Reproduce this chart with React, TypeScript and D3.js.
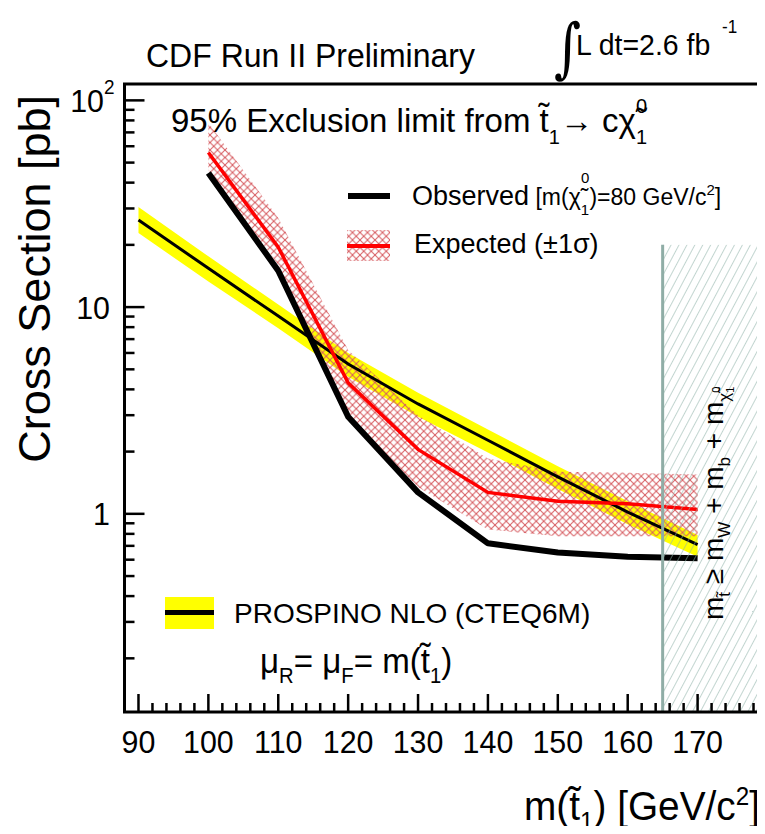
import * as d3 from 'd3';

// stop mass points (GeV/c^2)
const massPoints = [100, 110, 120, 130, 140, 150, 160, 170];
const observed = [44.5, 15, 2.95, 1.27, 0.72, 0.65, 0.62, 0.61];
const expected = [56, 19.5, 4.3, 2.05, 1.27, 1.15, 1.12, 1.05];
const expectedUp = [78, 27, 6.2, 3.0, 1.85, 1.6, 1.58, 1.55];
const expectedDown = [46, 16, 3.0, 1.35, 0.84, 0.78, 0.78, 0.78];

// PROSPINO NLO theory
const theoryMass = [90, 100, 110, 120, 130, 140, 150, 160, 170];
const theory = [26.4, 15.4, 9.05, 5.3, 3.4, 2.27, 1.51, 1.02, 0.71];
const theoryUp = [30.5, 17.6, 10.3, 6.0, 3.85, 2.56, 1.7, 1.15, 0.79];
const theoryDown = [22.8, 13.3, 7.9, 4.6, 2.95, 1.98, 1.32, 0.89, 0.62];

const xTickLabels = [90, 100, 110, 120, 130, 140, 150, 160, 170];
const kinLimitMass = 165;
const kinLimitTop = 20;

const W = 765;
const H = 834;
const frame = { left: 124.5, right: 760.5, top: 84, bottom: 712 };

const T = ({ x, y, size, sx = 1, anchor = 'start', rot = 0, family, children }: any) => (
  <text
    transform={`translate(${x},${y}) rotate(${rot}) scale(${sx},1)`}
    fontSize={size}
    textAnchor={anchor}
    fontFamily={family}
    fill="#000"
  >
    {children}
  </text>
);

export default function App() {
  const x = d3.scaleLinear().domain([88, 179]).range([frame.left, frame.right]);
  const y = d3.scaleLog().domain([0.11, 120]).range([frame.bottom, frame.top]);

  const line = d3.line<[number, number]>().x(d => x(d[0])).y(d => y(d[1]));
  const band = d3
    .area<[number, number, number]>()
    .x(d => x(d[0]))
    .y0(d => y(d[1]))
    .y1(d => y(d[2]));

  const obsPts = massPoints.map((m, i) => [m, observed[i]] as [number, number]);
  const expPts = massPoints.map((m, i) => [m, expected[i]] as [number, number]);
  const expBand = massPoints.map((m, i) => [m, expectedDown[i], expectedUp[i]] as [number, number, number]);
  const thPts = theoryMass.map((m, i) => [m, theory[i]] as [number, number]);
  const thBand = theoryMass.map((m, i) => [m, theoryDown[i], theoryUp[i]] as [number, number, number]);

  // minor ticks
  const xMinor = d3.range(90, 179, 2).filter(v => v % 10 !== 0);
  const yMajor = [1, 10, 100];
  const yMinor: number[] = [];
  [0.1, 1, 10].forEach(dec => {
    for (let k = 2; k <= 9; k++) {
      const v = dec * k;
      if (v >= 0.11 && v <= 120) yMinor.push(v);
    }
  });

  const xk = x(kinLimitMass);
  const yk = y(kinLimitTop);

  return (
    <svg width={W} height={H} style={{ display: 'block', margin: -8 }} fontFamily="'Liberation Sans', Arial, sans-serif">
      <defs>
        <clipPath id="frameClip">
          <rect x={frame.left} y={frame.top} width={frame.right - frame.left} height={frame.bottom - frame.top} />
        </clipPath>
        <pattern id="redHatch" width="7.5" height="7.5" patternUnits="userSpaceOnUse">
          <path d="M0,0 L7.5,7.5 M7.5,0 L0,7.5" stroke="#d65b60" strokeWidth="1" fill="none" />
        </pattern>
        <pattern id="greyHatch" width="7" height="12" patternUnits="userSpaceOnUse" patternTransform="rotate(28)">
          <line x1="0" y1="0" x2="0" y2="12" stroke="#8fb2a9" strokeWidth="1.1" />
        </pattern>
      </defs>

      <rect width={W} height={H} fill="#fff" />

      <g clipPath="url(#frameClip)">
        {/* theory band */}
        <path d={band(thBand) || ''} fill="#ffff00" />
        {/* expected +-1 sigma */}
        <path d={band(expBand) || ''} fill="url(#redHatch)" />
        <path d={line(thPts) || ''} fill="none" stroke="#000" strokeWidth={3} />
        <path d={line(expPts) || ''} fill="none" stroke="#ff0000" strokeWidth={3.5} />
        <path d={line(obsPts) || ''} fill="none" stroke="#000" strokeWidth={6} strokeLinejoin="round" />
        {/* kinematically forbidden region */}
        <rect x={xk} y={yk} width={frame.right - xk} height={frame.bottom - yk} fill="url(#greyHatch)" />
        <line x1={xk} x2={xk} y1={yk} y2={frame.bottom} stroke="#8fada6" strokeWidth={3} />
      </g>

      {/* frame */}
      <rect
        x={frame.left}
        y={frame.top}
        width={frame.right - frame.left}
        height={frame.bottom - frame.top}
        fill="none"
        stroke="#000"
        strokeWidth={3}
      />

      {/* x ticks */}
      {xTickLabels.map(v => (
        <g key={'xt' + v}>
          <line x1={x(v)} x2={x(v)} y1={frame.bottom} y2={frame.bottom - 18} stroke="#000" strokeWidth={2.5} />
          <T x={x(v)} y={753} size={32} sx={0.95} anchor="middle">
            {v}
          </T>
        </g>
      ))}
      {xMinor.map(v => (
        <line key={'xm' + v} x1={x(v)} x2={x(v)} y1={frame.bottom} y2={frame.bottom - 9} stroke="#000" strokeWidth={2.5} />
      ))}

      {/* y ticks */}
      {yMajor.map(v => (
        <line key={'ym' + v} x1={frame.left} x2={frame.left + 20} y1={y(v)} y2={y(v)} stroke="#000" strokeWidth={2.5} />
      ))}
      {yMinor.map(v => (
        <line key={'yn' + v} x1={frame.left} x2={frame.left + 10} y1={y(v)} y2={y(v)} stroke="#000" strokeWidth={2.5} />
      ))}
      <T x={110} y={y(1) + 11.5} size={32} sx={0.95} anchor="end">1</T>
      <T x={110} y={y(10) + 11.5} size={32} sx={0.95} anchor="end">10</T>
      <T x={104} y={y(100) + 11.5} size={32} sx={0.95} anchor="end">10</T>
      <T x={104} y={y(100) - 6} size={20} sx={0.95}>2</T>

      {/* axis titles */}
      <T x={50} y={95} size={45} anchor="end" rot={-90}>
        Cross Section [pb]
      </T>
      <T x={760} y={820} size={40} sx={0.97} anchor="end">
        {'m(t\u0303'}
        <tspan fontSize={25} dy={10}>1</tspan>
        <tspan dy={-10}>{') [GeV/c'}</tspan>
        <tspan fontSize={25} dy={-15}>2</tspan>
        <tspan dy={15}>]</tspan>
      </T>

      {/* header */}
      <T x={146} y={67} size={33} sx={0.97}>CDF Run II Preliminary</T>
      <T x={554} y={70} size={65} sx={0.8} family="'DejaVu Serif', serif">{'\u222B'}</T>
      <T x={576} y={55} size={30} sx={0.95}>L dt=2.6 fb</T>
      <T x={722} y={33} size={18} sx={0.95}>-1</T>

      {/* subtitle */}
      <T x={171} y={132} size={33}>
        {'95% Exclusion limit from t\u0303'}
        <tspan fontSize={20} dy={12}>1</tspan>
        <tspan dy={-12}>{'\u2192 c\u03C7\u0303'}</tspan>
        <tspan fontSize={20} dy={12}>1</tspan>
        <tspan fontSize={20} dx={-11} dy={-31}>0</tspan>
      </T>

      {/* legend top */}
      <line x1={348} x2={390} y1={196} y2={196} stroke="#000" strokeWidth={6} />
      <T x={412} y={205} size={27}>
        Observed
        <tspan fontSize={23}>{' [m(\u03C7\u0303'}</tspan>
        <tspan fontSize={15} dy={10}>1</tspan>
        <tspan fontSize={15} dx={-8} dy={-32}>0</tspan>
        <tspan fontSize={23} dy={22}>{')=80 GeV/c'}</tspan>
        <tspan fontSize={15} dy={-10}>2</tspan>
        <tspan fontSize={23} dy={10}>]</tspan>
      </T>
      <rect x={347} y={230} width={43} height={31} fill="url(#redHatch)" />
      <line x1={347} x2={390} y1={246} y2={246} stroke="#ff0000" strokeWidth={4} />
      <T x={414} y={253} size={27}>{'Expected (\u00B11\u03C3)'}</T>

      {/* legend bottom */}
      <rect x={165} y={597} width={49} height={32} fill="#ffff00" />
      <line x1={165} x2={214} y1={612.5} y2={612.5} stroke="#000" strokeWidth={5} />
      <T x={234} y={623} size={28}>PROSPINO NLO (CTEQ6M)</T>
      <T x={260} y={673} size={36} sx={0.92}>
        {'\u03BC'}
        <tspan fontSize={22} dy={10}>R</tspan>
        <tspan dy={-10}>{'= \u03BC'}</tspan>
        <tspan fontSize={22} dy={10}>F</tspan>
        <tspan dy={-10}>{'= m(t\u0303'}</tspan>
        <tspan fontSize={22} dy={10}>1</tspan>
        <tspan dy={-10}>)</tspan>
      </T>

      {/* kinematic limit label */}
      <T x={723} y={620} size={28} rot={-90}>
        m
        <tspan fontSize={17} dy={7}>{'t\u0303'}</tspan>
        <tspan dy={-7}>{' \u2265 m'}</tspan>
        <tspan fontSize={17} dy={7}>W</tspan>
        <tspan dy={-7}>{' + m'}</tspan>
        <tspan fontSize={17} dy={7}>b</tspan>
        <tspan dy={-7}>{' + m'}</tspan>
        <tspan fontSize={17} dy={7}>{'\u03C7\u0303'}</tspan>
        <tspan fontSize={11} dy={4}>1</tspan>
        <tspan fontSize={11} dx={-6} dy={-14}>0</tspan>
      </T>
    </svg>
  );
}
